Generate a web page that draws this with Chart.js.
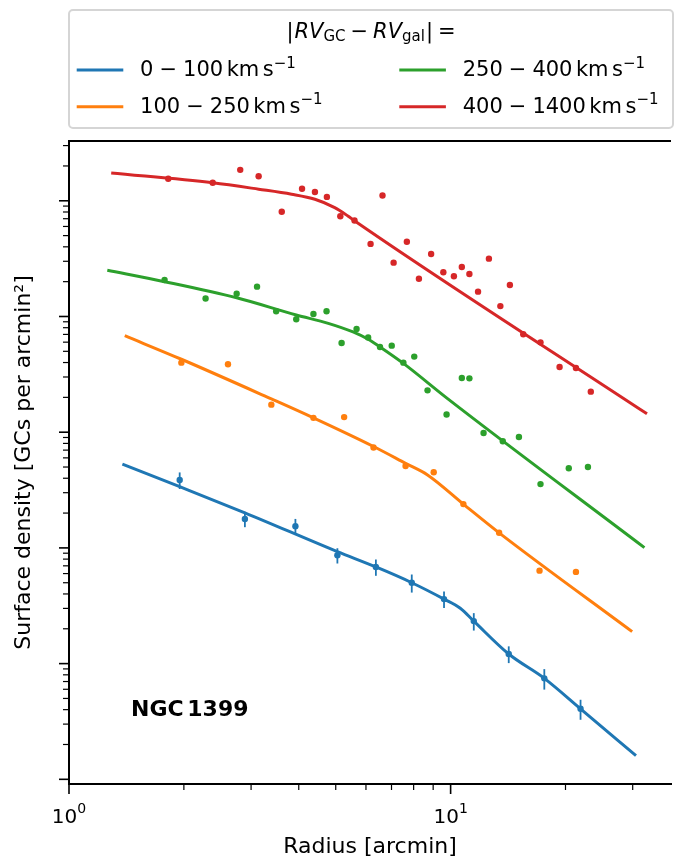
<!DOCTYPE html>
<html>
<head>
<meta charset="utf-8">
<script src="https://cdn.jsdelivr.net/npm/chart.js@4/dist/chart.umd.min.js"></script>
<style>
  body { margin: 0; background: #fff; overflow: hidden; }
</style>
</head>
<body>
<canvas id="myChart" width="675" height="861"></canvas>
<script>
// radius in arcmin, surface density (arbitrary decades)
const blueR = [1.95, 2.89, 3.92, 5.05, 6.37, 7.91, 9.61, 11.5, 14.2, 17.6, 21.9];
const blueN = [0.386, 0.178, 0.154, 0.0863, 0.0684, 0.0500, 0.0361, 0.0233, 0.0121, 0.00746, 0.00407];
const blueErr = [0.063, 0.027, 0.024, 0.013, 0.011, 0.0089, 0.0059, 0.0040, 0.0020, 0.0015, 0.0008];
const blueFitR = [1.38, 1.95, 2.89, 5.05, 6.37, 7.91, 9.61, 10.6, 11.5, 14.2, 17.6, 21.9, 30.6];
const blueFitN = [0.529, 0.338, 0.201, 0.0927, 0.0684, 0.0500, 0.0361, 0.0301, 0.0233, 0.0121, 0.00746, 0.00407, 0.0016];

const orangeR = [1.97, 2.61, 3.39, 4.37, 5.26, 6.28, 7.62, 9.03, 10.8, 13.4, 17.1, 21.3];
const orangeN = [3.99, 3.86, 1.73, 1.33, 1.35, 0.738, 0.511, 0.450, 0.239, 0.135, 0.0636, 0.0620];
const orangeFitR = [1.40, 1.97, 3.39, 4.37, 6.28, 7.62, 8.70, 10.8, 13.4, 29.9];
const orangeFitN = [6.82, 4.27, 1.94, 1.33, 0.752, 0.538, 0.427, 0.239, 0.135, 0.0189];

const greenR = [1.78, 2.28, 2.75, 3.11, 3.49, 3.94, 4.37, 4.73, 5.18, 5.67, 6.08, 6.53, 7.01, 7.52, 8.03, 8.70, 9.76, 10.7, 11.2, 12.2, 13.7, 15.1, 17.2, 20.4, 22.9];
const greenN = [20.7, 14.3, 15.7, 18.1, 11.1, 9.46, 10.5, 11.1, 5.90, 7.80, 6.58, 5.45, 5.60, 3.99, 4.50, 2.30, 1.42, 2.94, 2.92, 0.984, 0.834, 0.910, 0.356, 0.488, 0.500];
const greenFitR = [1.26, 1.78, 2.75, 3.94, 4.78, 5.55, 6.08, 6.53, 7.52, 9.76, 32.2];
const greenFitN = [25.1, 20.0, 14.5, 10.3, 8.73, 7.35, 6.35, 5.45, 3.93, 1.98, 0.1005];

const redR = [1.82, 2.38, 2.81, 3.14, 3.61, 4.08, 4.41, 4.74, 5.14, 5.60, 6.17, 6.63, 7.09, 7.68, 8.26, 8.89, 9.57, 10.2, 10.7, 11.2, 11.8, 12.6, 13.5, 14.3, 15.5, 17.2, 19.3, 21.3, 23.3];
const redN = [155, 143, 185, 163, 80.5, 127, 119, 108, 73.5, 67.6, 42.4, 111, 29.2, 44.3, 21.2, 34.7, 24.1, 22.3, 26.8, 23.3, 16.4, 31.6, 12.3, 18.7, 7.02, 5.98, 3.66, 3.59, 2.24];
const redFitR = [1.29, 2.38, 3.14, 3.83, 4.41, 4.97, 5.38, 5.61, 32.7];
const redFitN = [174, 143, 126, 114, 103, 87.2, 73.9, 66.9, 1.44];

// velocity bins for the legend
const binLow = [0, 100, 250, 400];
const binHigh = [100, 250, 400, 1400];

// tick marks on x
const xMajorTicks = [1, 10];
const xTickExp = ['0', '1'];
const xMinorTicks = [2, 3, 4, 5, 6, 7, 8, 9, 20, 30];

const FAMILY = "'DejaVu Sans'";
const colors = ['#1f77b4', '#ff7f0e', '#2ca02c', '#d62728'];

Chart.defaults.font.family = FAMILY;
Chart.defaults.color = '#000';

function toPoints(xs, ys) {
    return xs.map((x, i) => ({ x: x, y: ys[i] }));
}

// draws a row of text pieces (for sub/superscripts)
function drawParts(ctx, parts, x, y, align) {
    let total = 0;
    parts.forEach(p => {
        ctx.font = (p.style || '') + ' ' + (p.size || 21) + 'px ' + FAMILY;
        p.w = ctx.measureText(p.t).width;
        total += p.w + (p.gap || 0);
    });
    let cx = align === 'center' ? x - total / 2 : x;
    parts.forEach(p => {
        ctx.font = (p.style || '') + ' ' + (p.size || 21) + 'px ' + FAMILY;
        ctx.fillText(p.t, cx, y + (p.dy || 0));
        cx += p.w + (p.gap || 0);
    });
}

const decor = {
    id: 'decor',
    afterDatasetsDraw(chart) {
        const { ctx, scales: { x, y } } = chart;
        //error bars of the blue profile
        ctx.save();
        ctx.strokeStyle = colors[0];
        ctx.lineWidth = 1.8;
        blueR.forEach((r, i) => {
            const px = x.getPixelForValue(r);
            ctx.beginPath();
            ctx.moveTo(px, y.getPixelForValue(blueN[i] + blueErr[i]));
            ctx.lineTo(px, y.getPixelForValue(blueN[i] - blueErr[i]));
            ctx.stroke();
        });
        ctx.restore();
    },
    afterDraw(chart) {
        const { ctx, chartArea: a, scales: { x, y } } = chart;
        ctx.save();
        ctx.strokeStyle = '#000';
        ctx.fillStyle = '#000';

        // top spine
        ctx.lineWidth = 2;
        ctx.beginPath();
        ctx.moveTo(a.left - 1, a.top);
        ctx.lineTo(a.right, a.top);
        ctx.stroke();

        // x ticks
        ctx.lineWidth = 1.6;
        xMajorTicks.forEach(v => {
            const px = x.getPixelForValue(v);
            ctx.beginPath();
            ctx.moveTo(px, a.bottom);
            ctx.lineTo(px, a.bottom + 10);
            ctx.stroke();
        });
        ctx.lineWidth = 1.2;
        xMinorTicks.forEach(v => {
            const px = x.getPixelForValue(v);
            ctx.beginPath();
            ctx.moveTo(px, a.bottom);
            ctx.lineTo(px, a.bottom + 6);
            ctx.stroke();
        });

        // y ticks, log decades
        for (let d = -4; d <= 3; d++) {
            for (let k = 1; k <= 9; k++) {
                const v = k * Math.pow(10, d);
                if (v < y.min || v > y.max) continue;
                const py = y.getPixelForValue(v);
                ctx.lineWidth = k === 1 ? 1.6 : 1.2;
                ctx.beginPath();
                ctx.moveTo(a.left, py);
                ctx.lineTo(a.left - (k === 1 ? 10 : 6), py);
                ctx.stroke();
            }
        }

        // x tick labels 10^n
        ctx.textBaseline = 'alphabetic';
        xMajorTicks.forEach((v, i) => {
            const px = x.getPixelForValue(v);
            drawParts(ctx, [{ t: '10', size: 20 }, { t: xTickExp[i], size: 14, dy: -9.5 }], px, 822.5, 'center');
        });

        // galaxy name
        drawParts(ctx, [{ t: 'NGC', size: 22, style: 'bold', gap: 3.7 }, { t: '1399', size: 22, style: 'bold' }], 131, 716, 'left');

        // legend box
        ctx.lineWidth = 2;
        ctx.strokeStyle = '#d5d5d5';
        ctx.fillStyle = 'rgba(255,255,255,0.8)';
        ctx.beginPath();
        ctx.roundRect(69, 10, 604, 118, 4);
        ctx.fill();
        ctx.stroke();

        ctx.fillStyle = '#000';
        drawParts(ctx, [
            { t: '|', gap: 1 },
            { t: 'RV', style: 'italic' },
            { t: 'GC', size: 15, dy: 3, gap: 5 },
            { t: '−', gap: 5 },
            { t: 'RV', style: 'italic' },
            { t: 'gal', size: 15, dy: 3, gap: 1 },
            { t: '|', gap: 5 },
            { t: '=' }
        ], 371, 38, 'center');

        const colX = [76.7, 399.3];
        const rowY = [70, 106.7];
        binLow.forEach((lo, i) => {
            const cx = colX[Math.floor(i / 2)];
            const cy = rowY[i % 2];
            ctx.strokeStyle = colors[i];
            ctx.lineWidth = 3;
            ctx.beginPath();
            ctx.moveTo(cx, cy);
            ctx.lineTo(cx + 46.6, cy);
            ctx.stroke();
            drawParts(ctx, [
                { t: String(lo), gap: 6 },
                { t: '−', gap: 6 },
                { t: String(binHigh[i]), gap: 3.5 },
                { t: 'km', gap: 3.5 },
                { t: 's' },
                { t: '−1', size: 15, dy: -8.5 }
            ], cx + 63.4, cy + 6, 'left');
        });

        ctx.restore();
    }
};

const lineStyle = (data, color) => ({
    data: data,
    showLine: true,
    borderColor: color,
    borderWidth: 3,
    pointRadius: 0,
    cubicInterpolationMode: 'monotone',
    fill: false
});
const dotStyle = (data, color) => ({
    data: data,
    showLine: false,
    backgroundColor: color,
    borderColor: color,
    borderWidth: 0,
    pointRadius: 3.2
});

const ctx = document.getElementById('myChart');
const myChart = new Chart(ctx, {
    type: 'scatter',
    data: {
        datasets: [
            dotStyle(toPoints(blueR, blueN), colors[0]),
            lineStyle(toPoints(blueFitR, blueFitN), colors[0]),
            dotStyle(toPoints(orangeR, orangeN), colors[1]),
            lineStyle(toPoints(orangeFitR, orangeFitN), colors[1]),
            dotStyle(toPoints(greenR, greenN), colors[2]),
            lineStyle(toPoints(greenFitR, greenFitN), colors[2]),
            dotStyle(toPoints(redR, redN), colors[3]),
            lineStyle(toPoints(redFitR, redFitN), colors[3])
        ]
    },
    options: {
        responsive: false,
        animation: false,
        devicePixelRatio: 1,
        layout: { padding: { top: 141, left: 0, right: 0, bottom: 0 } },
        plugins: {
            legend: { display: false },
            tooltip: { enabled: false }
        },
        scales: {
            x: {
                type: 'logarithmic',
                min: 1,
                max: 37.8,
                ticks: { display: false },
                grid: { display: false },
                border: { display: true, color: '#000', width: 2 },
                title: {
                    display: true,
                    text: 'Radius [arcmin]',
                    font: { size: 22 },
                    color: '#000',
                    padding: { top: 0, bottom: 1 }
                },
                afterFit: scale => { scale.height = 77; }
            },
            y: {
                type: 'logarithmic',
                min: 9.11e-4,
                max: 328.6,
                ticks: { display: false },
                grid: { display: false },
                border: { display: true, color: '#000', width: 2 },
                title: {
                    display: true,
                    text: 'Surface density [GCs per arcmin²]',
                    font: { size: 22 },
                    color: '#000',
                    padding: { top: 11, bottom: 0 }
                },
                afterFit: scale => { scale.width = 69; }
            }
        }
    },
    plugins: [decor]
});
</script>
</body>
</html>
